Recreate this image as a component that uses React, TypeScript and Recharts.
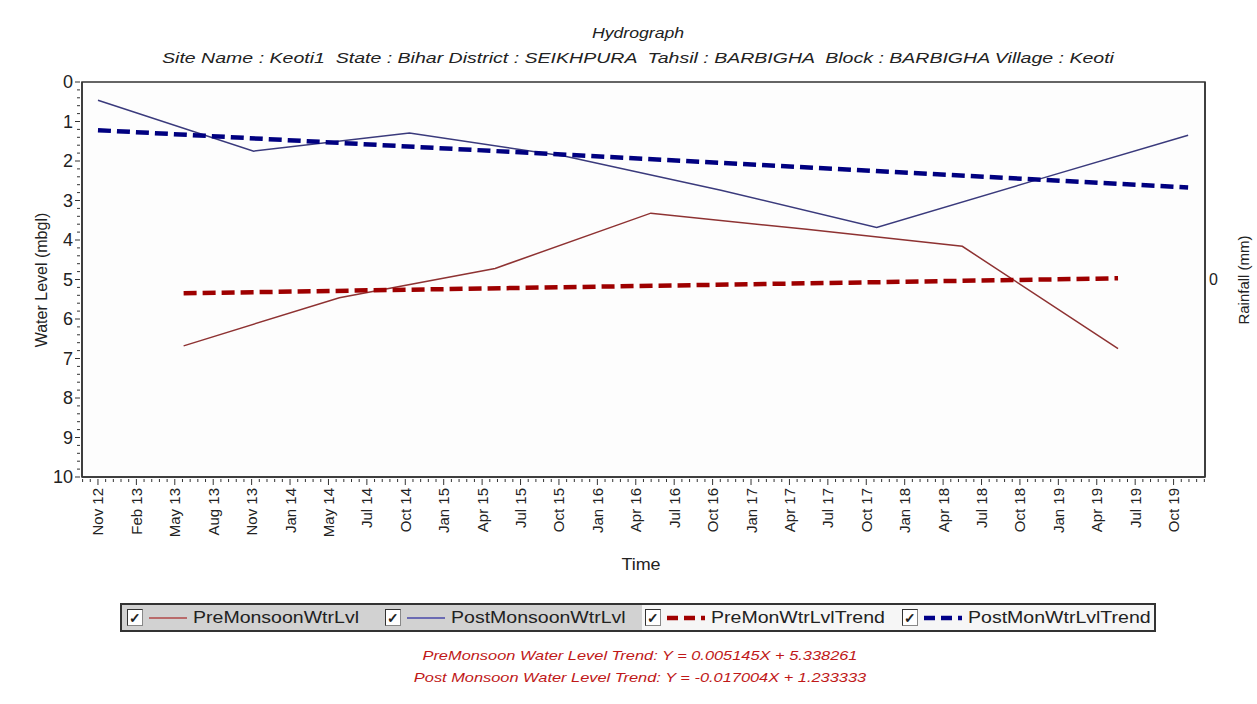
import { LineChart, Line, XAxis, YAxis, ReferenceArea } from 'recharts'

// x values are months counted from Nov 2012
const TICK_LABELS = [
  'Nov 12', 'Feb 13', 'May 13', 'Aug 13', 'Nov 13', 'Jan 14', 'May 14', 'Jul 14', 'Oct 14', 'Jan 15',
  'Apr 15', 'Jul 15', 'Oct 15', 'Jan 16', 'Apr 16', 'Jul 16', 'Oct 16', 'Jan 17', 'Apr 17', 'Jul 17',
  'Oct 17', 'Jan 18', 'Apr 18', 'Jul 18', 'Oct 18', 'Jan 19', 'Apr 19', 'Jul 19', 'Oct 19',
]
const TICK_STEP = 2.96
const X_DOMAIN: [number, number] = [-1.23, 85.3]

const POST_MONTHS = [0, 12, 24, 36, 48, 60, 72, 84]
const POST_LEVEL = [0.46, 1.75, 1.29, 1.88, 2.74, 3.68, 2.51, 1.35]

const PRE_MONTHS = [6.6, 18.6, 30.6, 42.6, 54.6, 66.6, 78.6]
const PRE_LEVEL = [6.68, 5.46, 4.72, 3.32, 3.73, 4.16, 6.75]

const PRE_TREND_MONTHS = [6.6, 78.6]
const PRE_TREND_LEVEL = [5.35, 4.97]
const POST_TREND_MONTHS = [0, 84]
const POST_TREND_LEVEL = [1.22, 2.67]

const Y_TICKS = [0, 1, 2, 3, 4, 5, 6, 7, 8, 9, 10]
const RAIN_TICKS = [0]

const toPoints = (xs: number[], ys: number[]) => xs.map((x, i) => ({ x, y: ys[i] }))

const SUB = 5
const xTicks: number[] = []
for (let k = -2; k * (TICK_STEP / SUB) <= X_DOMAIN[1]; k++) xTicks.push(+(k * (TICK_STEP / SUB)).toFixed(4))
const yTicks: number[] = []
for (let k = 0; k <= 10 * SUB; k++) yTicks.push(+(k / SUB).toFixed(2))

const FONT = '"Liberation Sans", Arial, sans-serif'
const AXIS = '#333'
const STRETCH = 'scaleX(1.26)'

function XTick(props: any) {
  const { x, y, payload } = props
  const k = Math.round(payload.value / (TICK_STEP / SUB))
  const major = k % SUB === 0 && k >= 0 && k / SUB < TICK_LABELS.length
  return (
    <g>
      <line x1={x} y1={y} x2={x} y2={y + (major ? 6 : 3)} stroke={AXIS} strokeWidth={1} />
      {major && (
        <text
          x={x}
          y={y + 9}
          transform={`rotate(-90 ${x} ${y + 9})`}
          textAnchor="end"
          dominantBaseline="central"
          fontSize={15}
          fill="#222"
          fontFamily={FONT}
        >
          {TICK_LABELS[k / SUB]}
        </text>
      )}
    </g>
  )
}

function YTick(props: any) {
  const { x, y, payload } = props
  const v = payload.value
  const major = Y_TICKS.includes(v)
  return (
    <g>
      <line x1={x - (major ? 5 : 3)} y1={y} x2={x} y2={y} stroke={AXIS} strokeWidth={1} />
      {major && (
        <text x={x - 7} y={y} textAnchor="end" dominantBaseline="central" fontSize={18} fill="#222" fontFamily={FONT}>
          {v}
        </text>
      )}
    </g>
  )
}

function RainTick(props: any) {
  const { x, y, payload } = props
  return (
    <text x={x + 2} y={y} textAnchor="start" dominantBaseline="central" fontSize={16} fill="#222" fontFamily={FONT}>
      {payload.value}
    </text>
  )
}

const LEGEND = [
  { label: 'PreMonsoonWtrLvl', color: '#b04848', dashed: false, left: 127 },
  { label: 'PostMonsoonWtrLvl', color: '#4848a8', dashed: false, left: 385 },
  { label: 'PreMonWtrLvlTrend', color: '#a00000', dashed: true, left: 645 },
  { label: 'PostMonWtrLvlTrend', color: '#000088', dashed: true, left: 902 },
]

export default function App() {
  return (
    <div style={{ position: 'absolute', left: 0, top: 0, width: 1257, height: 704, background: '#fff', fontFamily: FONT, overflow: 'hidden' }}>
      <div style={{ position: 'absolute', top: 25, left: 0, width: 1276, textAlign: 'center', fontSize: 14, fontStyle: 'italic', color: '#222', transform: STRETCH }}>
        Hydrograph
      </div>
      <div style={{ position: 'absolute', top: 49, left: 0, width: 1276, textAlign: 'center', fontSize: 15.5, fontStyle: 'italic', color: '#222', whiteSpace: 'pre', transform: STRETCH }}>
        {'Site Name : Keoti1  State : Bihar District : SEIKHPURA  Tahsil : BARBIGHA  Block : BARBIGHA Village : Keoti'}
      </div>

      <div style={{ position: 'absolute', left: 0, top: 0 }}>
        <LineChart width={1257} height={600} margin={{ top: 82, right: 12, left: 32, bottom: 43 }}>
          <XAxis
            dataKey="x"
            type="number"
            domain={X_DOMAIN}
            ticks={xTicks}
            interval={0}
            allowDataOverflow
            height={80}
            tickSize={0}
            tickLine={false}
            tick={<XTick />}
            axisLine={{ stroke: AXIS, strokeWidth: 1.5 }}
          />
          <YAxis
            type="number"
            reversed
            domain={[0, 10]}
            ticks={yTicks}
            interval={0}
            width={50}
            tickSize={0}
            tickLine={false}
            tick={<YTick />}
            axisLine={{ stroke: AXIS, strokeWidth: 1.5 }}
          />
          <YAxis
            yAxisId="rain"
            orientation="right"
            type="number"
            domain={[-1, 1]}
            allowDataOverflow
            ticks={RAIN_TICKS}
            interval={0}
            width={40}
            tickSize={0}
            tickLine={false}
            tick={<RainTick />}
            axisLine={{ stroke: AXIS, strokeWidth: 1.5 }}
          />
          <ReferenceArea x1={X_DOMAIN[0]} x2={X_DOMAIN[1]} y1={0} y2={10} fill="#fbfbfb" stroke={AXIS} strokeWidth={1.5} />
          <Line
            data={toPoints(PRE_MONTHS, PRE_LEVEL)}
            dataKey="y"
            stroke="#8e3232"
            strokeWidth={1.5}
            dot={false}
            isAnimationActive={false}
          />
          <Line
            data={toPoints(POST_MONTHS, POST_LEVEL)}
            dataKey="y"
            stroke="#3a3a7c"
            strokeWidth={1.5}
            dot={false}
            isAnimationActive={false}
          />
          <Line
            data={toPoints(PRE_TREND_MONTHS, PRE_TREND_LEVEL)}
            dataKey="y"
            stroke="#9e0000"
            strokeWidth={4.5}
            strokeDasharray="13 6"
            dot={false}
            isAnimationActive={false}
          />
          <Line
            data={toPoints(POST_TREND_MONTHS, POST_TREND_LEVEL)}
            dataKey="y"
            stroke="#000080"
            strokeWidth={4.5}
            strokeDasharray="13 6"
            dot={false}
            isAnimationActive={false}
          />
        </LineChart>
      </div>

      <div style={{ position: 'absolute', left: 42, top: 280, transform: 'translate(-50%, -50%) rotate(-90deg)', fontSize: 16, color: '#222', whiteSpace: 'nowrap' }}>
        Water Level (mbgl)
      </div>
      <div style={{ position: 'absolute', left: 1243, top: 280, transform: 'translate(-50%, -50%) rotate(-90deg)', fontSize: 15, color: '#222', whiteSpace: 'nowrap' }}>
        Rainfall (mm)
      </div>
      <div style={{ position: 'absolute', left: 0, width: 1282, top: 556, textAlign: 'center', fontSize: 16, color: '#222', transform: 'scaleX(1.12)' }}>
        Time
      </div>

      <div style={{ position: 'absolute', left: 120, top: 603, width: 1036, height: 29, border: '2px solid #333', boxSizing: 'border-box', fontSize: 16, color: '#222', background: '#f6f6f6' }}>
        <div style={{ position: 'absolute', left: 0, top: 0, width: 520, height: 25, background: '#d2d2d2' }} />
        {LEGEND.map((it) => (
          <div key={it.label} style={{ position: 'absolute', left: it.left - 122, top: 0, height: 25, display: 'flex', alignItems: 'center' }}>
            <div style={{ width: 16, height: 17, background: '#fff', border: '1px solid #888', borderTopColor: '#333', borderLeftColor: '#333', fontSize: 14, lineHeight: '17px', textAlign: 'center', fontWeight: 'bold', boxSizing: 'border-box' }}>
              ✓
            </div>
            <svg width={44} height={10} style={{ marginLeft: 3 }}>
              <line
                x1={3} x2={41} y1={5} y2={5}
                stroke={it.color}
                strokeWidth={it.dashed ? 4.5 : 1.5}
                strokeDasharray={it.dashed ? '11 6' : undefined}
              />
            </svg>
            <span style={{ marginLeft: 3, display: 'inline-block', transform: 'scaleX(1.22)', transformOrigin: 'left center', whiteSpace: 'nowrap' }}>
              {it.label}
            </span>
          </div>
        ))}
      </div>

      <div style={{ position: 'absolute', top: 645, left: 0, width: 1280, textAlign: 'center', fontSize: 13, fontStyle: 'italic', color: '#c01818', lineHeight: '22px', transform: STRETCH }}>
        <div>PreMonsoon Water Level Trend: Y = 0.005145X + 5.338261</div>
        <div>Post Monsoon Water Level Trend: Y = -0.017004X + 1.233333</div>
      </div>
    </div>
  )
}
